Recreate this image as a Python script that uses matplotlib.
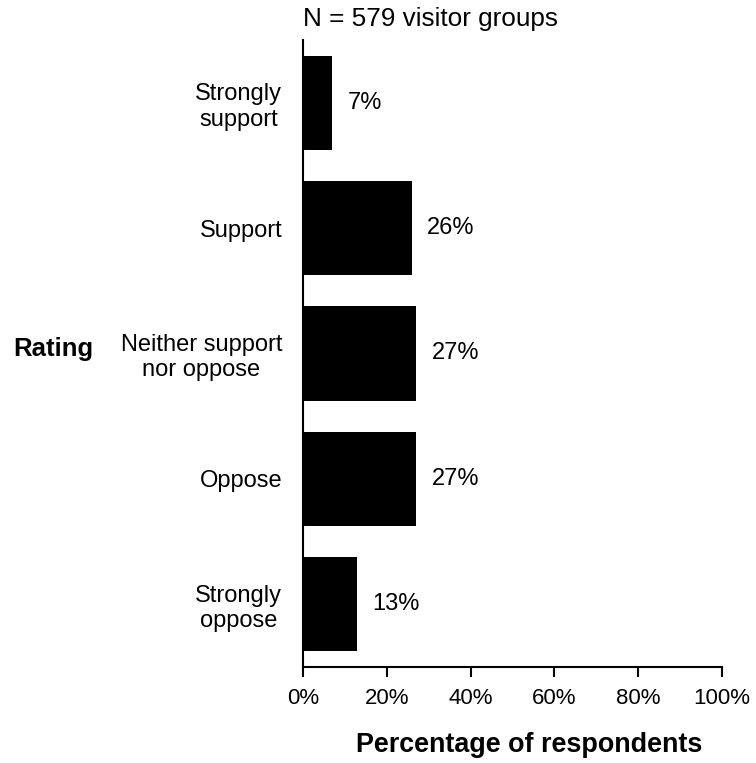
import matplotlib
matplotlib.use("Agg")
import matplotlib.pyplot as plt
from matplotlib.ticker import FuncFormatter

plt.rcParams['font.family'] = ['Liberation Sans', 'DejaVu Sans']

# Survey responses, top to bottom
categories = ["Strongly\nsupport", "Support", "Neither support\nnor oppose", "Oppose", "Strongly\noppose"]
percentages = [7, 26, 27, 27, 13]
value_labels = ["7%", "26%", "27%", "27%", "13%"]
x_ticks = [0, 20, 40, 60, 80, 100]

fig = plt.figure(figsize=(7.56, 7.63), dpi=100)
ax = fig.add_axes([0.4008, 0.1258, 0.5542, 0.8218])

positions = list(range(len(categories)))[::-1]
ax.barh(positions, percentages, height=0.75, color="black")

for pos, val, lab in zip(positions, percentages, value_labels):
    ax.annotate(lab, xy=(val, pos), xytext=(11, 0), textcoords="offset points",
                ha="left", va="center", fontsize=17)

ax.set_xlim(0, 100)
ax.set_ylim(-0.5, 4.5)
ax.set_xticks(x_ticks)
ax.xaxis.set_major_formatter(FuncFormatter(lambda v, p: f"{v:.0f}%"))
ax.set_yticks(positions)
ax.set_yticklabels(categories, multialignment="center", fontsize=17, linespacing=1.2)
ax.tick_params(axis="y", length=0, pad=15)
ax.tick_params(axis="x", length=7, width=1.5, labelsize=16, pad=8, direction="out")

for side in ("top", "right"):
    ax.spines[side].set_visible(False)
for side in ("left", "bottom"):
    ax.spines[side].set_linewidth(1.5)

ax.set_xlabel("Percentage of respondents", fontsize=19.4, fontweight="bold")
ax.xaxis.set_label_coords(0.539, -0.124)
ax.xaxis.label.set_va("center")
fig.text(0.017, 0.543, "Rating", fontsize=18.5, fontweight="bold", ha="left", va="center")
fig.text(0.4008, 0.975, "N = 579 visitor groups", fontsize=18.8, ha="left", va="center")

fig.savefig("out.png", dpi=100)
